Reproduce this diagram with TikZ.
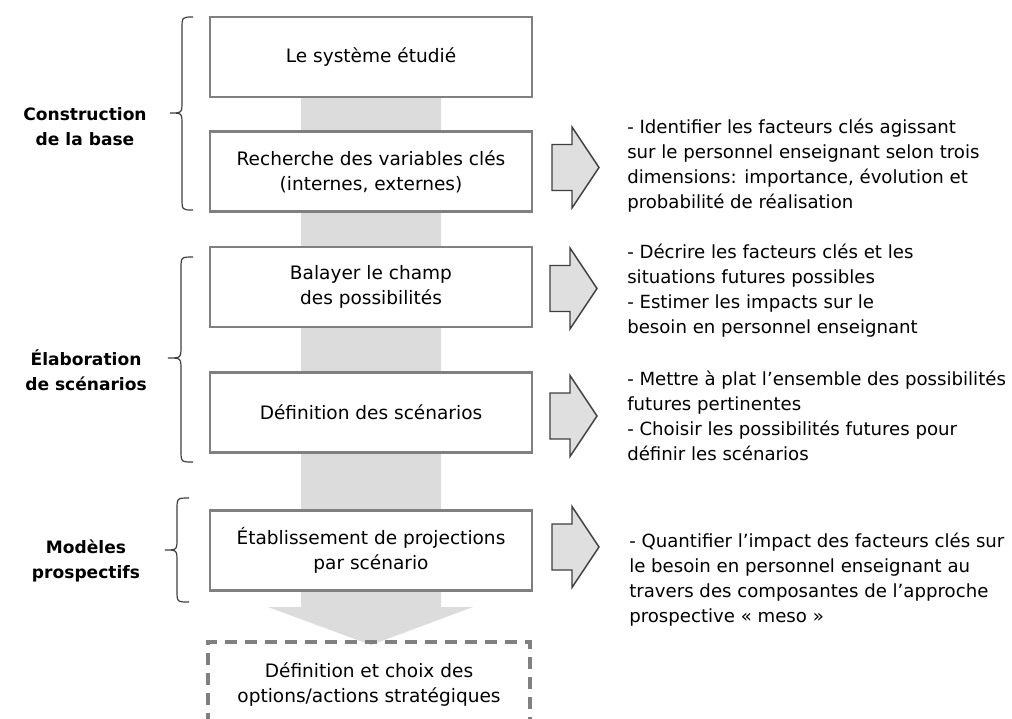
\documentclass[tikz,border=0pt]{standalone}
\usepackage{fontspec}
\setmainfont{DejaVu Sans}
\usetikzlibrary{calc}

\definecolor{boxgray}{HTML}{808080}
\definecolor{bandgray}{HTML}{DCDCDC}
\definecolor{arrowfill}{HTML}{DFDFDF}
\definecolor{inkgray}{HTML}{3F3F3F}

\tikzset{
  stepbox/.style={draw=boxgray, line width=2.2pt, fill=white,
    minimum width=241.5pt, minimum height=60pt, align=center,
    font=\fontsize{13.9}{18.5}\selectfont},
  finalbox/.style={stepbox, dash pattern=on 9pt off 6pt, line width=2.6pt,
    draw=boxgray, minimum height=64pt, fill=none},
  phaselabel/.style={align=center, font=\fontsize{12.8}{18.75}\selectfont\bfseries},
  notetext/.style={anchor=west, align=left, inner sep=0pt,
    font=\fontsize{13.6}{18.75}\selectfont},
  bracestroke/.style={draw=inkgray, line width=0.9pt},
  pics/sidearrow/.style={code={
    \draw[draw=inkgray, fill=arrowfill, line width=1.1pt, line join=miter]
      (0,-23) -- (20,-23) -- (20,-40.5) -- (47,0) -- (20,40.5)
      -- (20,23) -- (0,23) -- cycle;
  }}
}

\begin{document}
\begin{tikzpicture}[x=0.75pt, y=-0.75pt]
  \clip (0,0) rectangle (1012,718);
  \fill[white] (0,0) rectangle (1012,718);

  % broad downward flow arrow behind the steps
  \fill[bandgray] (301,57) -- (441,57) -- (441,607) -- (473,607)
    -- (371,645) -- (268,607) -- (301,607) -- cycle;

  % steps of the method
  \node[stepbox] (b1) at (371,57) {Le système étudié};
  \node[stepbox] (b2) at (371,171.5) {Recherche des variables clés\\(internes, externes)};
  \node[stepbox] (b3) at (371,287) {Balayer le champ\\des possibilités};
  \node[stepbox] (b4) at (371,412.5) {Définition des scénarios};
  \node[stepbox] (b5) at (371,550.5) {Établissement de projections\\par scénario};
  \node[finalbox] (b6) at (369,684.5) {Définition et choix des\\options/actions stratégiques};

  % side arrows towards the descriptions
  \pic at (552,167.5) {sidearrow};
  \pic at (550,288.5) {sidearrow};
  \pic at (550,416) {sidearrow};
  \pic at (552,547) {sidearrow};

  % descriptions
  \node[notetext] (t1) at (627,166) {- Identifier les facteurs clés agissant\\sur le personnel enseignant selon trois\\dimensions: importance, évolution et\\probabilité de réalisation};
  \node[notetext] (t2) at (627,290.5) {- Décrire les facteurs clés et les\\situations futures possibles\\- Estimer les impacts sur le\\besoin en personnel enseignant};
  \node[notetext] (t3) at (627,416) {- Mettre à plat l’ensemble des possibilités\\futures pertinentes\\- Choisir les possibilités futures pour\\définir les scénarios};
  \node[notetext] (t4) at (629,579.5) {- Quantifier l’impact des facteurs clés sur\\le besoin en personnel enseignant au\\travers des composantes de l’approche\\prospective « meso »};

  % phase braces
  \draw[bracestroke] (193,17) .. controls (182,17) .. (182,29) -- (182,101)
    .. controls (182,113) .. (170,113) .. controls (182,113) .. (182,125)
    -- (182,198) .. controls (182,210) .. (193,210);
  \draw[bracestroke] (193,257) .. controls (181,257) .. (181,269) -- (181,346)
    .. controls (181,358) .. (168,358) .. controls (181,358) .. (181,370)
    -- (181,450) .. controls (181,462) .. (193,462);
  \draw[bracestroke] (189,498) .. controls (177,498) .. (177,510) -- (177,538)
    .. controls (177,550) .. (165,550) .. controls (177,550) .. (177,562)
    -- (177,590) .. controls (177,602) .. (189,602);

  % phase names
  \node[phaselabel] (p1) at (85,127) {Construction\\de la base};
  \node[phaselabel] (p2) at (86,370) {Élaboration\\de scénarios};
  \node[phaselabel] (p3) at (86,561) {Modèles\\prospectifs};
\end{tikzpicture}
\end{document}
